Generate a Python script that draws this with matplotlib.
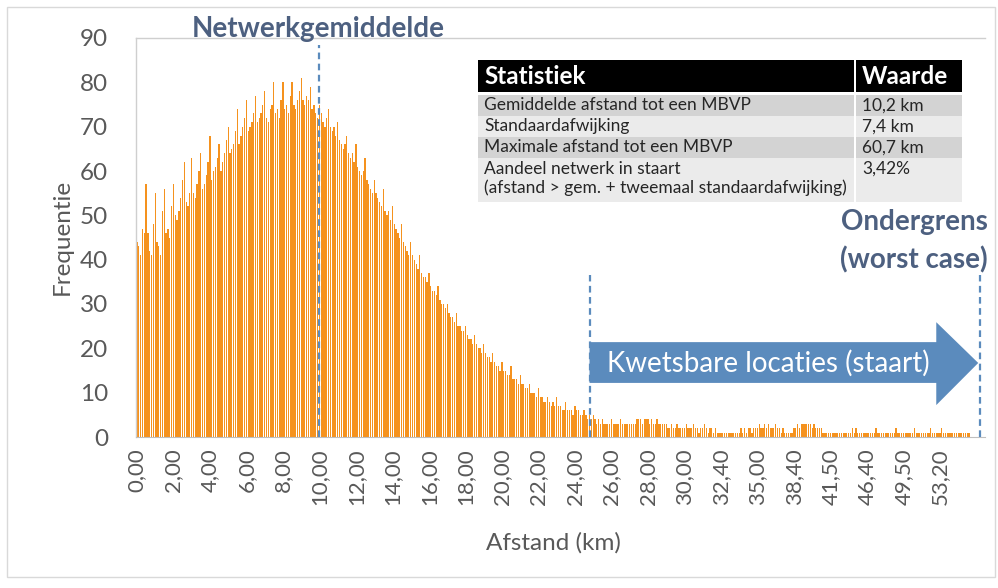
#!/usr/bin/env python

# Histogram of distance to the nearest MBVP, with statistics table and tail markers
import matplotlib
matplotlib.use('Agg')
import matplotlib.pyplot as plt
from matplotlib.patches import Rectangle, Polygon

plt.rcParams['font.family'] = ['Lato', 'DejaVu Sans']

# Distance categories (km): every 0.1 km up to 29.9, then only the values that occur
afstand_kort = [round(0.1 * i, 1) for i in range(300)]
afstand_staart = [
    30.0, 30.1, 30.2, 30.3, 30.5, 30.6, 30.7, 30.8, 30.9, 31.0,
    31.2, 31.3, 31.4, 31.6, 31.7, 31.8, 31.9, 32.0, 32.2, 32.3,
    32.4, 32.5, 32.6, 32.8, 32.9, 33.0, 33.1, 33.3, 33.4, 33.5,
    33.6, 33.8, 33.9, 34.0, 34.2, 34.3, 34.5, 34.6, 34.7, 34.9,
    35.0, 35.1, 35.3, 35.4, 35.6, 35.7, 35.9, 36.0, 36.2, 36.4,
    36.5, 36.7, 36.9, 37.0, 37.2, 37.4, 37.6, 37.8, 38.0, 38.2,
    38.4, 38.5, 38.7, 38.8, 39.0, 39.1, 39.2, 39.4, 39.5, 39.7,
    39.8, 40.0, 40.1, 40.3, 40.5, 40.6, 40.8, 41.0, 41.2, 41.3,
    41.5, 41.7, 42.0, 42.2, 42.5, 42.7, 42.9, 43.2, 43.4, 43.6,
    43.9, 44.1, 44.3, 44.6, 44.8, 45.1, 45.3, 45.6, 45.9, 46.1,
    46.4, 46.5, 46.7, 46.8, 47.0, 47.2, 47.3, 47.5, 47.6, 47.8,
    48.0, 48.1, 48.3, 48.4, 48.6, 48.8, 48.9, 49.1, 49.2, 49.4,
    49.5, 49.7, 49.9, 50.0, 50.2, 50.4, 50.6, 50.8, 50.9, 51.1,
    51.3, 51.5, 51.7, 51.8, 52.0, 52.2, 52.4, 52.6, 52.8, 53.0,
    53.2, 53.6, 54.0, 54.5, 54.9, 55.3, 55.8, 56.2, 56.7, 57.1,
    57.6, 58.0, 58.5, 59.0, 59.6, 60.1, 60.7,
]
afstand = afstand_kort + afstand_staart

# Frequency per distance category, one row per km up to 30 km
frequentie = [
    44, 43, 41, 47, 46, 57, 46, 42, 41, 48,
    55, 44, 43, 41, 51, 56, 46, 47, 45, 52,
    57, 50, 49, 51, 54, 58, 62, 53, 52, 55,
    63, 55, 54, 57, 60, 64, 56, 57, 59, 62,
    68, 58, 60, 61, 63, 66, 60, 62, 64, 67,
    70, 64, 65, 66, 69, 74, 66, 68, 70, 72,
    76, 69, 70, 71, 73, 77, 71, 72, 73, 75,
    78, 72, 71, 74, 75, 80, 73, 74, 72, 76,
    80, 74, 75, 73, 77, 80, 75, 74, 76, 78,
    81, 76, 75, 77, 76, 79, 74, 75, 73, 72,
    75, 73, 71, 70, 72, 74, 70, 69, 70, 68,
    71, 67, 66, 65, 66, 68, 64, 63, 64, 62,
    66, 61, 60, 59, 60, 63, 58, 57, 56, 55,
    58, 55, 54, 53, 52, 56, 51, 50, 51, 49,
    52, 48, 47, 46, 45, 48, 44, 43, 42, 41,
    44, 41, 40, 39, 38, 41, 37, 36, 36, 35,
    37, 34, 33, 33, 32, 34, 31, 30, 30, 29,
    30, 28, 27, 27, 26, 28, 25, 25, 24, 24,
    25, 23, 22, 22, 21, 23, 21, 20, 20, 19,
    21, 19, 18, 18, 17, 19, 17, 16, 16, 15,
    17, 15, 15, 14, 14, 16, 13, 13, 13, 12,
    14, 12, 12, 11, 11, 12, 10, 10, 10, 9,
    11, 9, 9, 8, 8, 9, 8, 7, 8, 7,
    9, 7, 7, 6, 6, 8, 6, 6, 6, 5,
    7, 6, 6, 5, 5, 6, 5, 4, 5, 4,
    5, 4, 3, 4, 3, 4, 3, 3, 3, 3,
    4, 3, 3, 3, 3, 4, 3, 3, 3, 3,
    3, 3, 3, 3, 4, 4, 4, 3, 4, 4,
    4, 3, 4, 3, 3, 4, 3, 3, 3, 3,
    3, 2, 2, 3, 2, 2, 3, 2, 2, 2,
    # tail, 20 categories per tick label
    2, 3, 2, 2, 2, 3, 2, 2, 1, 2, 2, 3, 2, 1, 2, 2, 1, 2, 1, 1,
    1, 1, 1, 1, 1, 1, 1, 1, 1, 1, 1, 2, 1, 2, 1, 2, 2, 1, 2, 2,
    2, 3, 2, 2, 3, 2, 3, 2, 2, 2, 3, 2, 2, 1, 2, 1, 1, 1, 1, 1,
    2, 2, 3, 2, 3, 3, 3, 3, 3, 3, 2, 3, 2, 2, 2, 2, 1, 1, 1, 1,
    1, 1, 1, 1, 1, 1, 1, 1, 1, 1, 1, 1, 2, 1, 2, 1, 1, 1, 1, 1,
    1, 1, 1, 1, 1, 2, 1, 1, 1, 1, 1, 1, 1, 1, 1, 1, 2, 1, 1, 1,
    1, 1, 1, 1, 1, 1, 2, 1, 1, 1, 1, 1, 1, 1, 1, 2, 1, 1, 1, 1,
    1, 2, 1, 1, 1, 1, 1, 1, 1, 1, 1, 1, 1, 1, 1, 1, 1,
]

# Statistics table
stat_namen = ['Gemiddelde afstand tot een MBVP', 'Standaardafwijking',
              'Maximale afstand tot een MBVP',
              'Aandeel netwerk in staart\n(afstand > gem. + tweemaal standaardafwijking)']
stat_waarden = ['10,2 km', '7,4 km', '60,7 km', '3,42%']

gemiddelde_km = 10.0     # marker for network mean
staart_km = 24.8         # start of the tail
label_stap = 20          # one tick label every 20 categories

oranje = '#f5921e'
blauw = '#5b8bbd'
leisteen = '#4d6080'
grijs = '#595959'

fig = plt.figure(figsize=(9.98, 5.88), dpi=100, facecolor='white')
W, H = 998, 588
ax = fig.add_axes([136 / W, 151 / H, 849 / W, 399 / H])

x = list(range(len(frequentie)))
ax.bar(x, frequentie, width=0.7, color=oranje, linewidth=0, zorder=2)
ax.set_xlim(-0.5, 464.7)
ax.set_ylim(0, 90)

ax.set_yticks(range(0, 91, 10))
ax.tick_params(axis='y', length=0, pad=20, labelsize=17.5, labelcolor=grijs)
tick_pos = x[::label_stap]
ax.set_xticks(tick_pos)
ax.set_xticklabels([('%.2f' % afstand[i]).replace('.', ',') for i in tick_pos],
                   rotation=90)
ax.tick_params(axis='x', length=0, pad=8, labelsize=16, labelcolor=grijs)

for s in ['left', 'top']:
    ax.spines[s].set_color('#cfcfcf')
    ax.spines[s].set_linewidth(1.0)
ax.spines['right'].set_visible(False)
ax.spines['bottom'].set_color('#bfbfbf')

# Dashed markers: network mean, start of tail, lower bound
i_gem = afstand.index(gemiddelde_km)
i_staart = afstand.index(staart_km)
i_grens = len(frequentie) + 5
dash = dict(color=blauw, lw=1.6, ls=(0, (3, 2)), zorder=3, clip_on=False)
ax.plot([i_gem, i_gem], [0, 88.4], **dash)
ax.plot([i_staart, i_staart], [0, 36.5], **dash)
ax.plot([i_grens, i_grens], [0, 36.5], **dash)

# Arrow over the tail
kop = i_grens - 24
pijl = Polygon([(i_staart, 12.2), (kop, 12.2), (kop, 7.2), (i_grens - 1, 16.7),
                (kop, 25.9), (kop, 21.4), (i_staart, 21.4)],
               closed=True, facecolor=blauw, edgecolor='none', zorder=4)
ax.add_patch(pijl)
ax.text((i_staart + kop) / 2 + 3, 16.7, 'Kwetsbare locaties (staart)', color='white',
        fontsize=20, ha='center', va='center', zorder=5)

# Overlay in pixel coordinates for labels, table and frame
ov = fig.add_axes([0, 0, 1, 1], zorder=10)
ov.set_xlim(0, W)
ov.set_ylim(H, 0)
ov.axis('off')
ov.patch.set_alpha(0)

ov.add_patch(Rectangle((7, 7), 988, 570, fill=False, edgecolor='#d9d9d9', lw=1))

ov.text(318, 29, 'Netwerkgemiddelde', color=leisteen, fontsize=20,
        fontweight='bold', ha='center', va='center')
ov.text(914, 222, 'Ondergrens', color=leisteen, fontsize=20,
        fontweight='bold', ha='center', va='center')
ov.text(914, 260, '(worst case)', color=leisteen, fontsize=20,
        fontweight='bold', ha='center', va='center')

ov.text(62, 237, 'Frequentie', color=grijs, fontsize=17.5, rotation=90,
        ha='center', va='center')
ov.text(553, 543, 'Afstand (km)', color=grijs, fontsize=17.5,
        ha='center', va='center')

# Table
tx0, tdiv, tx1 = 478, 855, 962
ov.add_patch(Rectangle((tx0, 60), tdiv - tx0 - 1, 32, facecolor='black', edgecolor='none'))
ov.add_patch(Rectangle((tdiv + 1, 60), tx1 - tdiv - 1, 32, facecolor='black', edgecolor='none'))
ov.text(484, 76, 'Statistiek', color='white', fontsize=17.5, fontweight='bold',
        ha='left', va='center')
ov.text(862, 76, 'Waarde', color='white', fontsize=17.5, fontweight='bold',
        ha='left', va='center')

rij_boven = [95, 116, 137, 158]
rij_hoogte = [21, 21, 21, 44]
rij_kleur = ['#d3d3d3', '#ebebeb', '#d3d3d3', '#ebebeb']
for naam, waarde, y0, h, c in zip(stat_namen, stat_waarden, rij_boven, rij_hoogte, rij_kleur):
    ov.add_patch(Rectangle((tx0, y0), tdiv - tx0 - 1, h, facecolor=c, edgecolor='none'))
    ov.add_patch(Rectangle((tdiv + 1, y0), tx1 - tdiv - 1, h, facecolor=c, edgecolor='none'))
    ov.text(484, y0 + 2.5, naam, color='#262626', fontsize=12.5, ha='left', va='top',
            linespacing=1.25)
    ov.text(862, y0 + 2.5, waarde, color='#262626', fontsize=12.5, ha='left', va='top')

fig.savefig('out.png', dpi=100, facecolor='white')
